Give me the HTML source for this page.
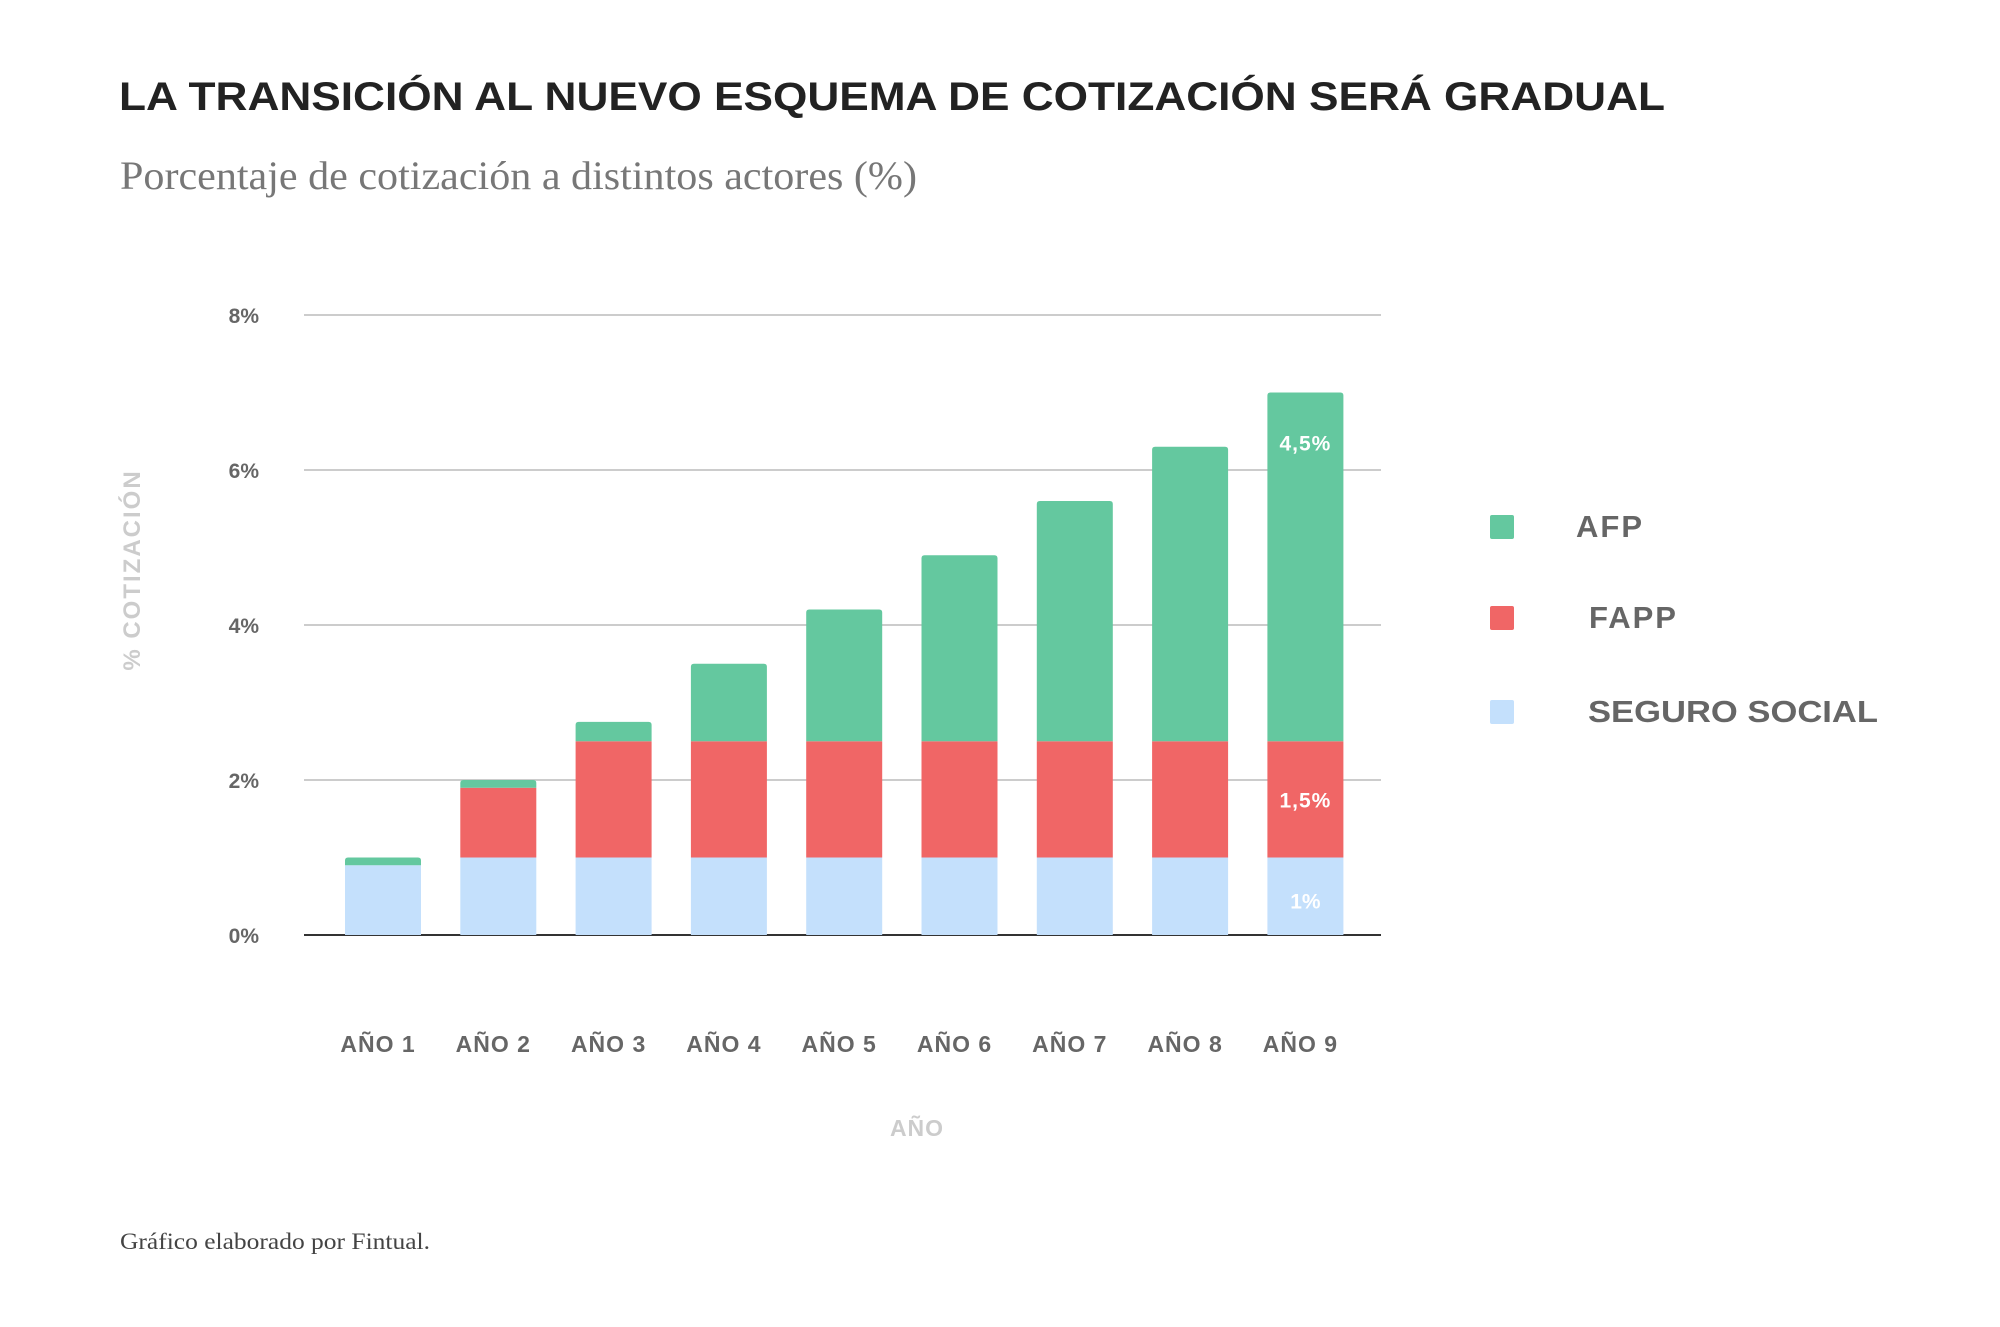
<!DOCTYPE html>
<html><head><meta charset="utf-8"><style>
body{margin:0;background:#fff;}
svg{display:block;}
</style></head><body>
<svg id="chart" width="2000" height="1327" viewBox="0 0 2000 1327" xmlns="http://www.w3.org/2000/svg">
<rect width="2000" height="1327" fill="#fff"/>
<text x="119" y="110" font-family="Liberation Sans, sans-serif" font-weight="bold" font-size="40" fill="#222" textLength="1546" lengthAdjust="spacingAndGlyphs">LA TRANSICIÓN AL NUEVO ESQUEMA DE COTIZACIÓN SERÁ GRADUAL</text>
<text x="120" y="189" font-family="Liberation Serif, serif" font-size="40" fill="#777" textLength="797" lengthAdjust="spacingAndGlyphs">Porcentaje de cotización a distintos actores  (%)</text>
<text x="120" y="1249" font-family="Liberation Serif, serif" font-size="23" fill="#444" textLength="310" lengthAdjust="spacingAndGlyphs">Gráfico elaborado por Fintual.</text>
<g id="grid"></g>
<g id="bars"></g>
<g id="labels"></g>
<text transform="translate(140,570) rotate(-90)" text-anchor="middle" font-family="Liberation Sans, sans-serif" font-weight="bold" font-size="24" fill="#ccc" letter-spacing="2">% COTIZACIÓN</text>
<text x="917" y="1136" text-anchor="middle" font-family="Liberation Sans, sans-serif" font-weight="bold" font-size="23" fill="#ccc" letter-spacing="1">AÑO</text>
<g>
<rect x="1490" y="515" width="24" height="24" rx="2" fill="#64c89f"/>
<text x="1576" y="537" font-family="Liberation Sans, sans-serif" font-weight="bold" font-size="31" fill="#666" letter-spacing="2">AFP</text>
<rect x="1490" y="606" width="24" height="24" rx="2" fill="#f06666"/>
<text x="1589" y="628" font-family="Liberation Sans, sans-serif" font-weight="bold" font-size="31" fill="#666" letter-spacing="2">FAPP</text>
<rect x="1490" y="700" width="24" height="24" rx="2" fill="#c4e0fc"/>
<text x="1588" y="722" font-family="Liberation Sans, sans-serif" font-weight="bold" font-size="31" fill="#666" textLength="290" lengthAdjust="spacingAndGlyphs">SEGURO SOCIAL</text>
</g>
</svg>
<script>
const categories = ["AÑO 1","AÑO 2","AÑO 3","AÑO 4","AÑO 5","AÑO 6","AÑO 7","AÑO 8","AÑO 9"];
const seguroSocial = [0.9,1,1,1,1,1,1,1,1];
const fapp = [0,0.9,1.5,1.5,1.5,1.5,1.5,1.5,1.5];
const afp = [0.1,0.1,0.25,1,1.7,2.4,3.1,3.8,4.5];
const yTicks = [0,2,4,6,8];
const yTickLabels = ["0%","2%","4%","6%","8%"];
const valueLabels = {seguro:"1%", fapp:"1,5%", afp:"4,5%"};

const NS="http://www.w3.org/2000/svg";
const plotL=304, plotR=1381, y0=935, pxPer=77.5;
const firstX=345, step=115.3, bw=76;
function yScale(v){return y0 - v*pxPer;}
function xScale(i){return firstX + i*step;}
function mk(tag, attrs, parent){const e=document.createElementNS(NS,tag);for(const k in attrs)e.setAttribute(k,attrs[k]);parent.appendChild(e);return e;}

const grid=document.getElementById('grid');
yTicks.forEach((t,i)=>{
  if(t!==0){
    const l=mk('line',{x1:plotL,x2:plotR,y1:yScale(t),y2:yScale(t),stroke:'#ccc','stroke-width':2},grid);
    
    
  }
  const tx=mk('text',{x:259,y:yScale(t)+8,'text-anchor':'end','font-family':'Liberation Sans, sans-serif','font-weight':'bold','font-size':21,fill:'#666'},grid);
  tx.textContent=yTickLabels[i];
  
  
});

const bars=document.getElementById('bars');
const labels=document.getElementById('labels');
categories.forEach((c,i)=>{
  const x=xScale(i);
  const s=seguroSocial[i], f=fapp[i], a=afp[i];
  const r1=mk('rect',{x:x,y:yScale(s),width:bw,height:s*pxPer,fill:'#c4e0fc'},bars);
  
  
  if(f>0){
    const r2=mk('rect',{x:x,y:yScale(s+f),width:bw,height:f*pxPer,fill:'#f06666'},bars);
    
    
  }
  const top=yScale(s+f+a), h=a*pxPer, r=Math.min(3,h/2);
  const p=mk('path',{d:`M${x},${top+h} V${top+r} Q${x},${top} ${x+r},${top} H${x+bw-r} Q${x+bw},${top} ${x+bw},${top+r} V${top+h} Z`,fill:'#64c89f'},bars);
  
  
  const xl=mk('text',{x:x+bw/2-5,y:1052,'text-anchor':'middle','font-family':'Liberation Sans, sans-serif','font-weight':'bold','font-size':23,fill:'#666','letter-spacing':1},labels);
  xl.textContent=c;
  
  
  if(i===categories.length-1){
    const cx=x+bw/2;
    const t1=mk('text',{x:cx,y:yScale(s+f+a)+58,'text-anchor':'middle','font-family':'Liberation Sans, sans-serif','font-weight':'bold','font-size':21,fill:'#fff','letter-spacing':1},labels);
    t1.textContent=valueLabels.afp;
    
    
    const t2=mk('text',{x:cx,y:yScale(s+f/2)+8,'text-anchor':'middle','font-family':'Liberation Sans, sans-serif','font-weight':'bold','font-size':21,fill:'#fff','letter-spacing':1},labels);
    t2.textContent=valueLabels.fapp;
    
    
    const t3=mk('text',{x:cx,y:yScale(s/2)+12,'text-anchor':'middle','font-family':'Liberation Sans, sans-serif','font-weight':'bold','font-size':21,fill:'#fff'},labels);
    t3.textContent=valueLabels.seguro;
    
    
  }
});
const ax=mk('line',{x1:plotL,x2:plotR,y1:y0,y2:y0,stroke:'#333','stroke-width':2},grid);


</script>
</body></html>
